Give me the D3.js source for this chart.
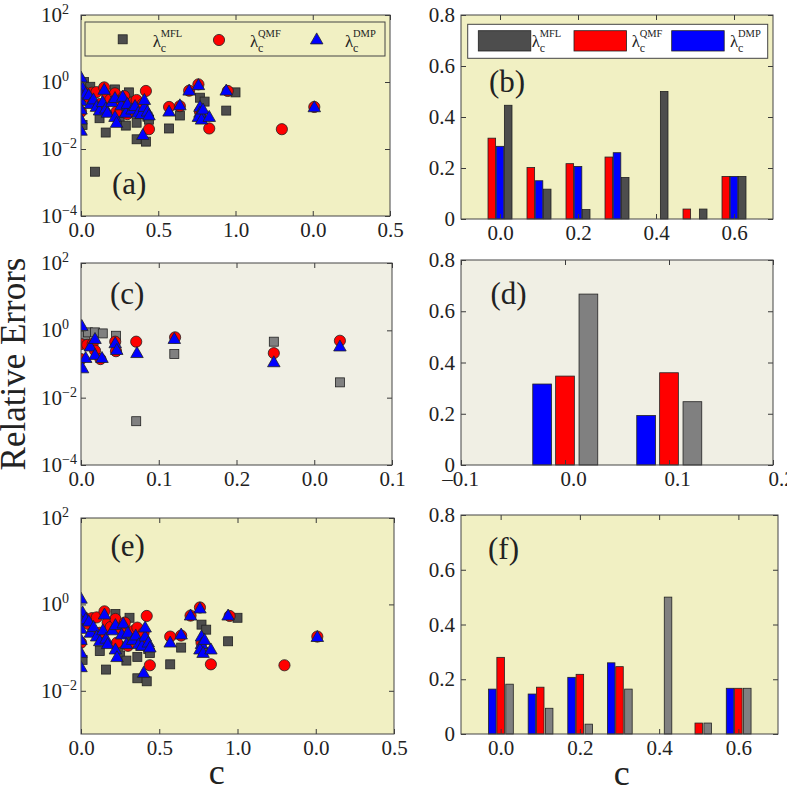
<!DOCTYPE html>
<html><head><meta charset="utf-8">
<script src="https://cdn.jsdelivr.net/npm/d3@7"></script>
<style>
body{margin:0;background:#fff;}
text{font-family:"Liberation Serif","Times New Roman",serif;fill:#222;}
</style>
</head><body>
<script>
// ---------------- DATA ----------------
const seriesKeys = ["MFL", "QMF", "DMP"];

// Scatter panels: [c, relative error]
const aMFL = [[0.00,0.80],[0.02,1.00],[0.06,0.72],[0.01,0.052],[0.09,0.0021],[0.12,0.083],[0.13,0.15],[0.16,0.031],[0.22,0.60],[0.24,0.11],[0.25,0.065],[0.29,0.05],[0.31,0.49],[0.33,0.16],[0.36,0.061],[0.36,0.0195],[0.38,0.11],[0.42,0.0166],[0.43,0.092],[0.44,0.075],[0.57,0.041],[0.64,0.10],[0.77,0.34],[0.80,0.26],[0.78,0.08],[0.94,0.14],[1.00,0.49]];
const aQMF = [[0.00,0.45],[0.00,0.13],[0.02,0.50],[0.05,0.35],[0.07,0.48],[0.10,0.50],[0.12,0.22],[0.15,0.69],[0.17,0.38],[0.19,0.30],[0.22,0.46],[0.23,0.13],[0.25,0.28],[0.28,0.38],[0.30,0.11],[0.33,0.24],[0.36,0.29],[0.38,0.15],[0.40,0.22],[0.42,0.54],[0.44,0.039],[0.57,0.18],[0.64,0.19],[0.70,0.55],[0.76,0.85],[0.77,0.13],[0.83,0.041],[0.95,0.54],[1.30,0.039],[1.51,0.18]];
const aDMP = [[0.00,1.35],[0.01,0.65],[0.00,0.42],[0.00,0.27],[0.00,0.15],[0.00,0.075],[0.00,0.035],[0.03,0.45],[0.05,0.40],[0.06,0.22],[0.08,0.30],[0.10,0.18],[0.12,0.14],[0.14,0.25],[0.15,0.58],[0.16,0.16],[0.17,0.12],[0.20,0.25],[0.22,0.33],[0.22,0.09],[0.23,0.06],[0.26,0.20],[0.27,0.36],[0.29,0.12],[0.30,0.22],[0.33,0.15],[0.35,0.19],[0.37,0.12],[0.39,0.11],[0.40,0.026],[0.41,0.18],[0.41,0.29],[0.43,0.13],[0.44,0.10],[0.57,0.13],[0.64,0.20],[0.70,0.55],[0.76,0.80],[0.77,0.18],[0.77,0.12],[0.76,0.09],[0.78,0.075],[0.79,0.15],[0.83,0.09],[0.94,0.55],[1.51,0.175]];

const cMFL = [[0.001,0.76],[0.005,0.70],[0.009,0.87],[0.018,0.87],[0.028,0.81],[0.045,0.69],[0.071,0.0020],[0.120,0.198],[0.248,0.46],[0.333,0.0285]];
const cQMF = [[0.000,0.39],[0.000,0.14],[0.008,0.37],[0.015,0.40],[0.018,0.25],[0.025,0.14],[0.044,0.46],[0.045,0.24],[0.071,0.46],[0.121,0.62],[0.248,0.21],[0.333,0.49]];
const cDMP = [[0.001,1.34],[0.002,0.074],[0.006,0.15],[0.012,0.33],[0.018,0.185],[0.018,0.55],[0.027,0.15],[0.044,0.41],[0.046,0.26],[0.072,0.21],[0.120,0.55],[0.248,0.112],[0.333,0.33]];

const eMFL = [[0.01,0.052],[0.12,0.083],[0.13,0.15],[0.16,0.031],[0.22,0.60],[0.24,0.11],[0.25,0.065],[0.29,0.05],[0.31,0.49],[0.33,0.16],[0.36,0.061],[0.36,0.0195],[0.38,0.11],[0.42,0.0166],[0.43,0.092],[0.44,0.075],[0.57,0.041],[0.64,0.10],[0.77,0.34],[0.80,0.26],[0.78,0.08],[0.94,0.14],[1.00,0.49]];
const eQMF = aQMF;
const eDMP = aDMP;

// Bar panels
const bfCategories = [0, 0.1, 0.2, 0.3, 0.4, 0.5, 0.6];
const bMFL = [0.446, 0.117, 0.037, 0.163, 0.500, 0.039, 0.167];
const bQMF = [0.317, 0.202, 0.217, 0.243, 0, 0.039, 0.167];
const bDMP = [0.285, 0.150, 0.206, 0.260, 0, 0, 0.167];

const dCategories = [0, 0.1];
const dMFL = [0.667, 0.247];
const dQMF = [0.347, 0.360];
const dDMP = [0.316, 0.193];

const fMFL = [0.182, 0.094, 0.036, 0.164, 0.500, 0.040, 0.167];
const fQMF = [0.280, 0.171, 0.218, 0.246, 0, 0.040, 0.167];
const fDMP = [0.164, 0.146, 0.207, 0.260, 0, 0, 0.167];

// Ticks
const logTicksA = [1e-4, 1e-2, 1e0, 1e2];
const logTicksE = [1e-2, 1e0, 1e2];
const xTicksAE = [0, 0.5, 1.0, 1.5, 2.0];
const xTickLabelsAE = ["0.0", "0.5", "1.0", "0.0", "0.5"];
const xTicksC = [0, 0.1, 0.2, 0.3, 0.4];
const xTickLabelsC = ["0.0", "0.1", "0.2", "0.0", "0.1"];
const barYTicks = [0, 0.2, 0.4, 0.6, 0.8];
const barYTickLabels = ["0", "0.2", "0.4", "0.6", "0.8"];
const bfXTicks = [0, 0.2, 0.4, 0.6];
const bfXTickLabels = ["0.0", "0.2", "0.4", "0.6"];
const dXTicks = [-0.1, 0, 0.1, 0.2];
const dXTickLabels = ["\u20130.1", "0.0", "0.1", "0.2"];

// ---------------- STYLE / LAYOUT ----------------
const FONT = '"Liberation Serif","Times New Roman",serif';
const YELLOW = "#f1f0c3", BEIGE = "#f0efe4";
const DARKGRAY = "#4d4d4d", LIGHTGRAY = "#808080", RED = "#ff0000", BLUE = "#0000ff";
const AXC = "#3a3a3a";

const svg = d3.select("body").append("svg").attr("width", 787).attr("height", 788);

function makePanel(box, bg) {
  const g = svg.append("g");
  g.append("rect").attr("x", box.x0).attr("y", box.y0)
    .attr("width", box.x1 - box.x0).attr("height", box.y1 - box.y0).attr("fill", bg);
  return g;
}

function styleText(sel, size) {
  sel.attr("font-size", size).attr("font-family", FONT).attr("fill", "#222");
}

function drawAxes(g, box, x, y, o) {
  const bottom = d3.axisBottom(x).tickValues(o.xTicks).tickFormat((d, i) => o.xLabels[i])
    .tickSizeInner(-5).tickSizeOuter(0).tickPadding(6);
  const gb = g.append("g").attr("transform", `translate(0,${box.y1})`).attr("color", AXC).call(bottom);
  gb.select(".domain").remove();
  styleText(gb.selectAll("text"), 21);
  if (o.xLabelDx) gb.selectAll("text").attr("dx", (d) => o.xLabelDx(d));

  const gt = g.append("g").attr("transform", `translate(0,${box.y0})`).attr("color", AXC)
    .call(d3.axisTop(x).tickValues(o.xTicks).tickFormat("").tickSizeInner(-5).tickSizeOuter(0));
  gt.select(".domain").remove();

  const left = d3.axisLeft(y).tickValues(o.yTicks).tickSizeInner(-5).tickSizeOuter(0).tickPadding(6)
    .tickFormat(o.log ? () => "" : (d, i) => o.yLabels[i]);
  const gl = g.append("g").attr("transform", `translate(${box.x0},0)`).attr("color", AXC).call(left);
  gl.select(".domain").remove();
  styleText(gl.selectAll("text"), 21);

  const gr = g.append("g").attr("transform", `translate(${box.x1},0)`).attr("color", AXC)
    .call(d3.axisRight(y).tickValues(o.yTicks).tickFormat("").tickSizeInner(-5).tickSizeOuter(0));
  gr.select(".domain").remove();

  if (o.log) {
    o.yTicks.forEach(v => {
      const e = Math.round(Math.log10(v));
      const yy = y(v);
      g.append("text").attr("x", 41).attr("y", yy + 7).text("10")
        .attr("font-size", 21).attr("font-family", FONT).attr("fill", "#222");
      g.append("text").attr("x", 62).attr("y", yy - 1).text(e < 0 ? "\u2212" + (-e) : String(e))
        .attr("font-size", 14).attr("font-family", FONT).attr("fill", "#222");
    });
  }
}

function frame(g, box) {
  g.append("rect").attr("x", box.x0).attr("y", box.y0)
    .attr("width", box.x1 - box.x0).attr("height", box.y1 - box.y0)
    .attr("fill", "none").attr("stroke", "#444").attr("stroke-width", 1);
}

function square(g, cx, cy, fill) {
  const s = 9;
  g.append("rect").attr("x", cx - s / 2).attr("y", cy - s / 2).attr("width", s).attr("height", s)
    .attr("fill", fill).attr("stroke", "#222").attr("stroke-width", 0.8);
}
function circle(g, cx, cy) {
  g.append("circle").attr("cx", cx).attr("cy", cy).attr("r", 5.6)
    .attr("fill", RED).attr("stroke", "#222").attr("stroke-width", 0.8);
}
function triangle(g, cx, cy) {
  const w = 12.5, h = 11;
  g.append("path").attr("d", `M${cx},${cy - h * 0.6}L${cx + w / 2},${cy + h * 0.4}L${cx - w / 2},${cy + h * 0.4}Z`)
    .attr("fill", BLUE).attr("stroke", "#222").attr("stroke-width", 0.8);
}

function scatterPanel(box, bg, domainY, xTicks, xLabels, yTicks, xMax, mfl, qmf, dmp, grayFill, label, labelPos) {
  const g = makePanel(box, bg);
  const x = d3.scaleLinear().domain([0, xMax]).range([box.x0, box.x1]);
  const y = d3.scaleLog().domain(domainY).range([box.y1, box.y0]);
  const clipId = "clip" + label.replace(/[()]/g, "");
  svg.append("clipPath").attr("id", clipId).append("rect")
    .attr("x", box.x0).attr("y", box.y0).attr("width", box.x1 - box.x0).attr("height", box.y1 - box.y0);
  const m = g.append("g").attr("clip-path", `url(#${clipId})`);
  mfl.forEach(d => square(m, x(d[0]), y(d[1]), grayFill));
  qmf.forEach(d => circle(m, x(d[0]), y(d[1])));
  dmp.forEach(d => triangle(m, x(d[0]), y(d[1])));
  drawAxes(g, box, x, y, { xTicks, xLabels, yTicks, log: true });
  g.append("text").attr("x", labelPos[0]).attr("y", labelPos[1]).text(label)
    .attr("font-size", 31).attr("font-family", FONT).attr("fill", "#222");
  frame(g, box);
  return g;
}

function barPanel(box, bg, domainX, cats, series, barW, xTicks, xLabels, label, labelPos, xLabelDx) {
  const g = makePanel(box, bg);
  const x = d3.scaleLinear().domain(domainX).range([box.x0, box.x1]);
  const y = d3.scaleLinear().domain([0, 0.8]).range([box.y1, box.y0]);
  series.forEach(s => {
    cats.forEach((c, i) => {
      const v = s.values[i];
      if (!v) return;
      const xc = c + s.offset;
      g.append("rect").attr("x", x(xc - barW / 2)).attr("y", y(v))
        .attr("width", x(xc + barW / 2) - x(xc - barW / 2)).attr("height", y(0) - y(v))
        .attr("fill", s.color).attr("stroke", "#222").attr("stroke-width", 0.8);
    });
  });
  drawAxes(g, box, x, y, { xTicks, xLabels, yTicks: barYTicks, yLabels: barYTickLabels, log: false, xLabelDx });
  g.append("text").attr("x", labelPos[0]).attr("y", labelPos[1]).text(label)
    .attr("font-size", 31).attr("font-family", FONT).attr("fill", "#222");
  frame(g, box);
  return g;
}

function lambdaLabel(g, x, yb, sup) {
  g.append("text").attr("x", x).attr("y", yb).text("\u03bb").attr("font-size", 17).attr("font-family", FONT).attr("fill", "#222");
  g.append("text").attr("x", x + 8).attr("y", yb - 9.5).text(sup).attr("font-size", 10.5).attr("font-family", FONT).attr("fill", "#222");
  g.append("text").attr("x", x + 8).attr("y", yb + 5).text("c").attr("font-size", 12).attr("font-family", FONT).attr("fill", "#222");
}

// ---------------- PANELS ----------------
const boxA = { x0: 81, x1: 390, y0: 15, y1: 216 };
const boxB = { x0: 461, x1: 773, y0: 15, y1: 219 };
const boxC = { x0: 81, x1: 392, y0: 263, y1: 465 };
const boxD = { x0: 461, x1: 773, y0: 260, y1: 465 };
const boxE = { x0: 81, x1: 394, y0: 518, y1: 734 };
const boxF = { x0: 461, x1: 778, y0: 515, y1: 734 };

const gA = scatterPanel(boxA, YELLOW, [1e-4, 1e2], xTicksAE, xTickLabelsAE, logTicksA, 2.0, aMFL, aQMF, aDMP, DARKGRAY, "(a)", [112, 194]);
// legend (a)
{
  const lg = gA.append("g");
  lg.append("rect").attr("x", 85).attr("y", 22).attr("width", 300).attr("height", 34)
    .attr("fill", YELLOW).attr("stroke", "#444").attr("stroke-width", 1);
  square(lg, 122.7, 39.3, DARKGRAY);
  lambdaLabel(lg, 152.7, 46.5, seriesKeys[0]);
  circle(lg, 219, 40);
  lambdaLabel(lg, 250, 46.5, seriesKeys[1]);
  triangle(lg, 316.7, 39.5);
  lambdaLabel(lg, 345, 46.5, seriesKeys[2]);
}

const gB = barPanel(boxB, YELLOW, [-0.1, 0.7], bfCategories, [
  { values: bQMF, offset: -0.021, color: RED },
  { values: bDMP, offset: 0, color: BLUE },
  { values: bMFL, offset: 0.021, color: DARKGRAY }
], 0.0195, bfXTicks, bfXTickLabels, "(b)", [489, 92]);
{
  const lg = gB.append("g");
  lg.append("rect").attr("x", 467.7).attr("y", 24.3).attr("width", 300).attr("height", 34)
    .attr("fill", "#fff").attr("stroke", "#444").attr("stroke-width", 1);
  const sw = [[478.3, DARKGRAY, 531.7, seriesKeys[0]], [574, RED, 631.7, seriesKeys[1]], [671.7, BLUE, 730, seriesKeys[2]]];
  sw.forEach(s => {
    lg.append("rect").attr("x", s[0]).attr("y", 30.7).attr("width", 52.5).attr("height", 20.3)
      .attr("fill", s[1]).attr("stroke", "#222").attr("stroke-width", 0.8);
    lambdaLabel(lg, s[2], 46.5, s[3]);
  });
}

scatterPanel(boxC, BEIGE, [1e-4, 1e2], xTicksC, xTickLabelsC, logTicksA, 0.4, cMFL, cQMF, cDMP, LIGHTGRAY, "(c)", [110, 304]);

barPanel(boxD, BEIGE, [-0.1, 0.2], dCategories, [
  { values: dDMP, offset: -0.022, color: BLUE },
  { values: dQMF, offset: 0, color: RED },
  { values: dMFL, offset: 0.0225, color: LIGHTGRAY }
], 0.018, dXTicks, dXTickLabels, "(d)", [490.5, 304], d => (d >= 0 ? 8 : -1));

scatterPanel(boxE, YELLOW, [1e-3, 1e2], xTicksAE, xTickLabelsAE, logTicksE, 2.0, eMFL, eQMF, eDMP, DARKGRAY, "(e)", [110.5, 556]);

barPanel(boxF, YELLOW, [-0.1, 0.7], bfCategories, [
  { values: fDMP, offset: -0.021, color: BLUE },
  { values: fQMF, offset: 0, color: RED },
  { values: fMFL, offset: 0.0225, color: LIGHTGRAY }
], 0.019, bfXTicks, bfXTickLabels, "(f)", [488, 559]);

// Axis titles
svg.append("text").attr("transform", "translate(25,364) rotate(-90)").attr("text-anchor", "middle")
  .text("Relative Errors").attr("font-size", 35).attr("font-family", FONT).attr("fill", "#222");
svg.append("text").attr("x", 216.7).attr("y", 784).attr("text-anchor", "middle")
  .text("c").attr("font-size", 36).attr("font-family", FONT).attr("fill", "#222");
svg.append("text").attr("x", 621.7).attr("y", 785).attr("text-anchor", "middle")
  .text("c").attr("font-size", 36).attr("font-family", FONT).attr("fill", "#222");
</script>
</body></html>
